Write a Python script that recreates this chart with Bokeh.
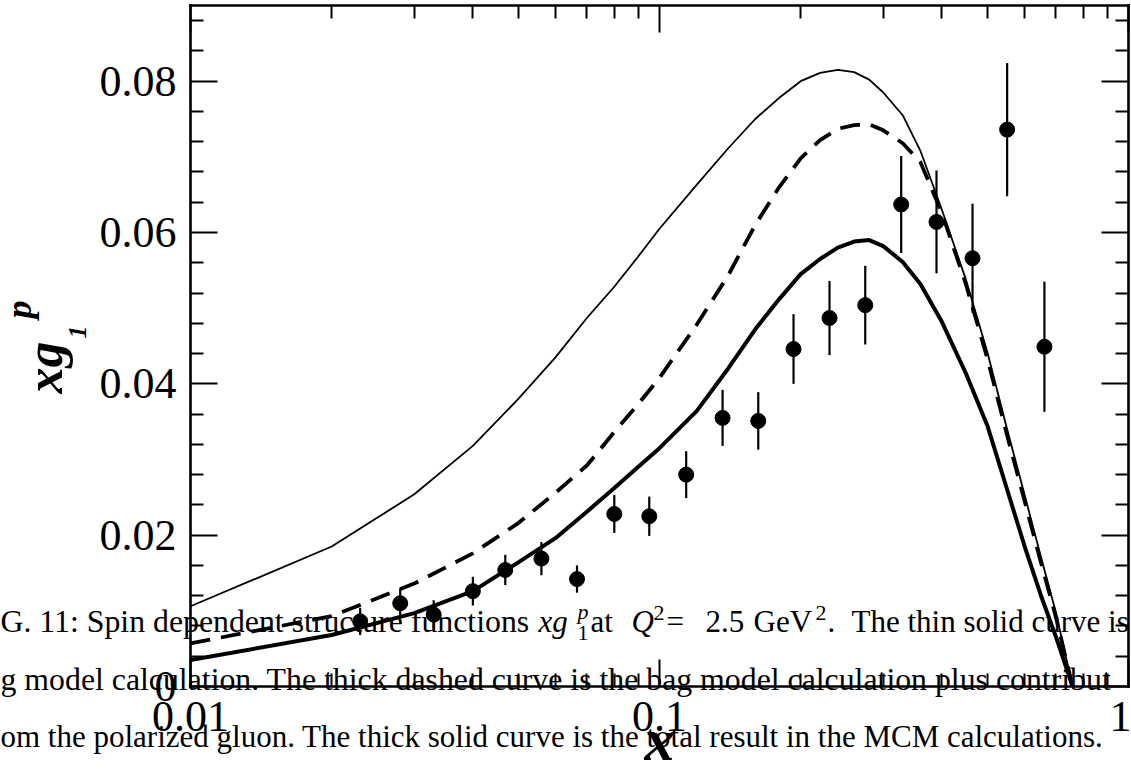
import numpy as np
from bokeh.plotting import figure
from bokeh.models import (Range1d, FixedTicker, LogAxis, LinearAxis, Label,
                          CustomJSTickFormatter)
from bokeh.embed import file_html
from bokeh.resources import INLINE

# ---------------- data ----------------
curve_x = [0.01, 0.02, 0.03, 0.04, 0.05, 0.06, 0.07, 0.08, 0.09, 0.10,
           0.12, 0.14, 0.16, 0.18, 0.20, 0.22, 0.24, 0.26, 0.28, 0.30,
           0.33, 0.36, 0.40, 0.45, 0.50, 0.55, 0.60, 0.65, 0.70, 0.76]
bag_thin = [0.0106, 0.0185, 0.0254, 0.0318, 0.0380, 0.0435, 0.0487, 0.0528, 0.0568, 0.0605,
            0.0663, 0.0711, 0.0750, 0.0778, 0.0800, 0.0811, 0.0815, 0.0812, 0.0802, 0.0785,
            0.0755, 0.0708, 0.0630, 0.0538, 0.0442, 0.0342, 0.0254, 0.0172, 0.0098, 0.0]
bag_gluon_dashed = [0.0057, 0.0093, 0.0136, 0.0176, 0.0216, 0.0256, 0.0292, 0.0336, 0.0373, 0.0408,
                    0.0478, 0.0543, 0.0610, 0.0660, 0.0698, 0.0722, 0.0737, 0.0742, 0.0743, 0.0735,
                    0.0718, 0.0693, 0.0626, 0.0532, 0.0434, 0.0334, 0.0246, 0.0165, 0.0092, 0.0]
mcm_total = [0.0035, 0.0068, 0.0097, 0.0126, 0.0164, 0.0196, 0.0231, 0.0262, 0.0290, 0.0315,
             0.0364, 0.0420, 0.0472, 0.0512, 0.0545, 0.0565, 0.0580, 0.0588, 0.0590, 0.0582,
             0.0561, 0.0532, 0.0482, 0.0414, 0.0345, 0.0262, 0.0186, 0.0121, 0.0066, 0.0]

data_x = [0.0230, 0.0280, 0.0330, 0.0400, 0.0469, 0.0560, 0.0667, 0.0801, 0.0951, 0.1140,
          0.1363, 0.1624, 0.1931, 0.2304, 0.2746, 0.3276, 0.3896, 0.4650, 0.5511, 0.6618]
data_y = [0.0086, 0.0110, 0.0095, 0.0126, 0.0154, 0.0169, 0.0142, 0.0228, 0.0225, 0.0280,
          0.0355, 0.0351, 0.0446, 0.0487, 0.0504, 0.0637, 0.0614, 0.0566, 0.0736, 0.0449]
data_err = [0.0018, 0.0019, 0.0019, 0.0019, 0.0020, 0.0022, 0.0018, 0.0025, 0.0026, 0.0031,
            0.0037, 0.0038, 0.0046, 0.0049, 0.0052, 0.0064, 0.0068, 0.0072, 0.0088, 0.0086]

x_lim = [0.01, 1.0]
y_lim = [0.0, 0.09]
x_major = [0.01, 0.1, 1.0]
x_minor = [0.02, 0.03, 0.04, 0.05, 0.06, 0.07, 0.08, 0.09,
           0.2, 0.3, 0.4, 0.5, 0.6, 0.7, 0.8, 0.9]
y_major = [0.0, 0.02, 0.04, 0.06, 0.08]
y_minor = [0.004, 0.008, 0.012, 0.016, 0.024, 0.028, 0.032, 0.036, 0.044, 0.048,
           0.052, 0.056, 0.064, 0.068, 0.072, 0.076, 0.084, 0.088]

caption_1a = "G. 11: Spin dependent structure functions"
caption_1b = "The thin solid curve is"
caption_2 = "g model calculation. The thick dashed curve is the bag model calculation plus contribut"
caption_3 = "om the polarized gluon. The thick solid curve is the total result in the MCM calculations."

# ---------------- layout: the plotting box inside the canvas (pixels) ----------------
W, H = 1131, 775
PL, PR, PT, PB = 190, 1128, 5, 686

lx0, lx1 = np.log10(x_lim[0]), np.log10(x_lim[1])
dpp = (lx1 - lx0) / (PR - PL)            # decades per pixel
ypp = (y_lim[1] - y_lim[0]) / (PB - PT)  # y units per pixel
x_range = Range1d(10 ** (lx0 - PL * dpp), 10 ** (lx1 + (W - PR) * dpp))
y_range = Range1d(y_lim[0] - (H - PB) * ypp, y_lim[1] + PT * ypp)

p = figure(width=W, height=H, x_axis_type="log", x_range=x_range, y_range=y_range,
           output_backend="svg", toolbar_location=None,
           min_border_left=0, min_border_right=0, min_border_top=0, min_border_bottom=0)
p.grid.visible = False
p.background_fill_color = "white"
p.border_fill_color = "white"
p.outline_line_color = None

p.add_layout(LogAxis(), "above")
p.add_layout(LinearAxis(), "right")

fmt = CustomJSTickFormatter(code="return tick.toString();")
blank = CustomJSTickFormatter(code="return '';")
for ax in p.xaxis:
    ax.ticker = FixedTicker(ticks=x_major, minor_ticks=x_minor)
    ax.bounds = (x_lim[0], x_lim[1])
for ax in p.yaxis:
    ax.ticker = FixedTicker(ticks=y_major, minor_ticks=y_minor)
    ax.bounds = (y_lim[0], y_lim[1])
for ax in list(p.xaxis) + list(p.yaxis):
    ax.formatter = fmt
    ax.axis_line_width = 2.6
    ax.axis_line_color = "black"
    ax.axis_line_cap = "square"
    ax.major_tick_in = 27
    ax.major_tick_out = 0
    ax.minor_tick_in = 13
    ax.minor_tick_out = 0
    ax.major_tick_line_width = 2
    ax.minor_tick_line_width = 2
    ax.major_tick_line_color = "black"
    ax.minor_tick_line_color = "black"
    ax.major_label_text_font = "Liberation Serif"
    ax.major_label_text_font_size = "44px"
    ax.major_label_text_color = "black"
p.below[0].fixed_location = y_lim[0]
p.above[0].fixed_location = y_lim[1]
p.left[0].fixed_location = x_lim[0]
p.right[0].fixed_location = x_lim[1]
p.below[0].major_label_standoff = 15
p.left[0].major_label_standoff = 14
for ax in (p.above[0], p.right[0]):
    ax.formatter = blank

# ---------------- curves and data ----------------
p.line(curve_x, bag_thin, line_color="black", line_width=1.8)
p.line(curve_x, bag_gluon_dashed, line_color="black", line_width=3.8, line_dash="20 11")
p.line(curve_x, mcm_total, line_color="black", line_width=4)

lo = [y - e for y, e in zip(data_y, data_err)]
hi = [y + e for y, e in zip(data_y, data_err)]
p.segment(x0=data_x, y0=lo, x1=data_x, y1=hi, line_color="black", line_width=2.2)
p.scatter(data_x, data_y, size=15, marker="circle", fill_color="black", line_color="black")

# ---------------- text annotations (positions given in page pixels) ----------------
def X(px):
    return 10 ** (lx0 + (px - PL) * dpp)

def Y(py):
    return y_lim[0] + (PB - py) * ypp

K = 0.35  # measured offset of the drawn baseline, in em

def lab(px, py, text, size, style="normal", angle=0.0, align="left", font="Liberation Serif"):
    if angle == 0.0:
        py = py - K * size
    else:
        px = px - K * size
    p.add_layout(Label(x=X(px), y=Y(py), text=text, text_font=font,
                       text_font_size=f"{size}px", text_font_style=style,
                       text_baseline="alphabetic", text_align=align,
                       angle=angle, text_color="black"))

# axis titles
lab(62, 393, "xg", 52, "bold italic", angle=np.pi / 2)
lab(86, 338, "1", 26, "bold italic", angle=np.pi / 2)
lab(31, 318, "p", 36, "bold italic", angle=np.pi / 2)
lab(659, 760, "x", 60, "bold italic", align="center")

# caption lines overlapping the figure
lab(0, 632, caption_1a, 31.8)
lab(538, 632, "xg", 31, "italic")
lab(577, 619, "p", 22, "italic")
lab(577, 640, "1", 22)
lab(590, 632, "at", 31)
lab(631, 632, "Q", 31, "italic")
lab(653, 620, "2", 22)
lab(666, 632, "=", 31)
lab(705, 632, "2.5", 31)
lab(753, 632, "GeV", 31)
lab(815, 620, "2", 22)
lab(827, 632, ".", 31)
lab(851, 632, caption_1b, 31)
lab(0, 690, caption_2, 31.8)
lab(0, 747, caption_3, 31)

html = file_html(p, INLINE, title="xg1p")
html = html.replace("<head>", "<head><style>html,body{margin:0;padding:0;overflow:hidden}</style>", 1)
open("out.html", "w").write(html)
